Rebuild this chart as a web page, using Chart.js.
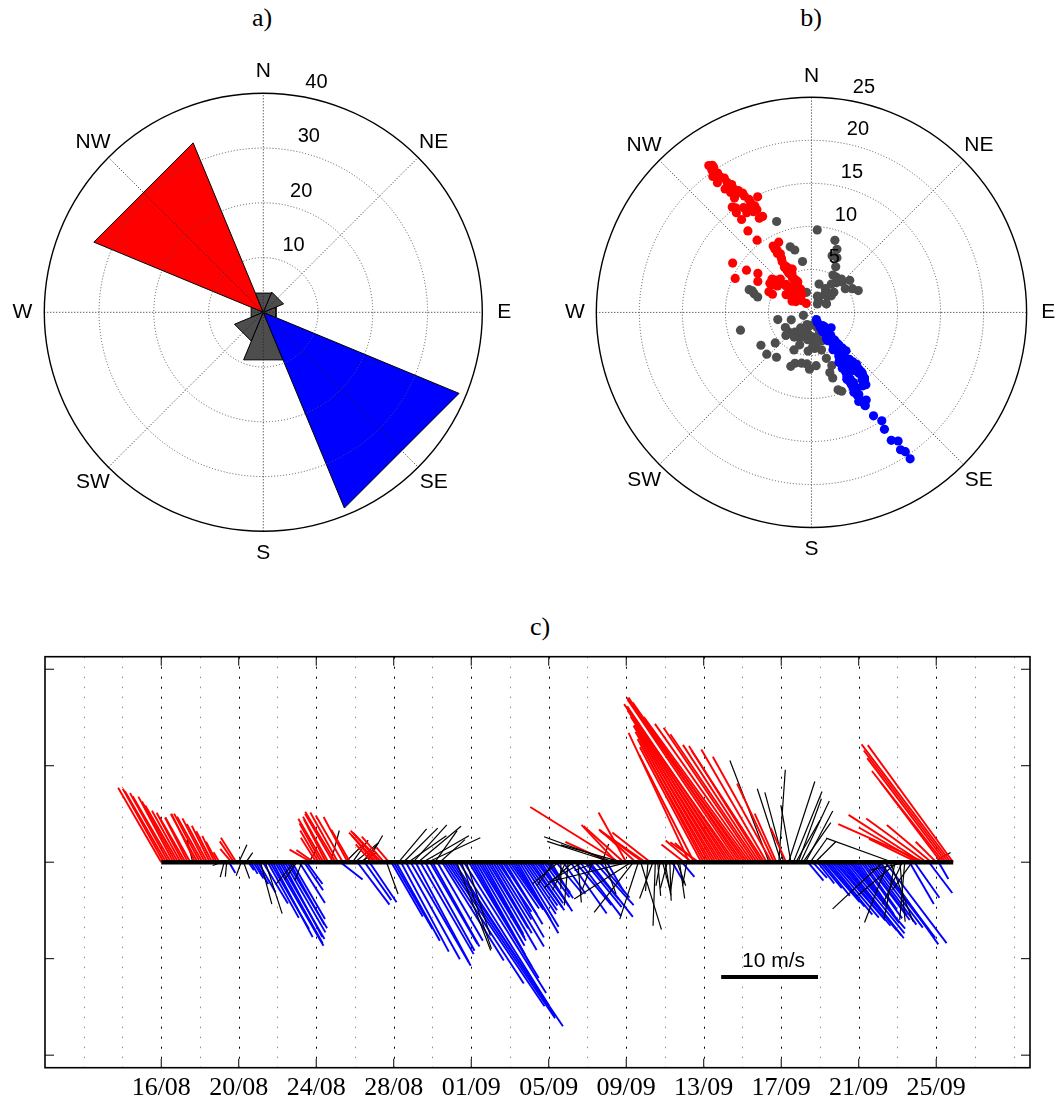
<!DOCTYPE html>
<html>
<head>
<meta charset="utf-8">
<title>Wind direction and speed</title>
<script src="https://cdn.jsdelivr.net/npm/chart.js@4.4.1/dist/chart.umd.min.js"></script>
<style>
  html, body { margin: 0; padding: 0; background: #fff; }
  body { position: relative; width: 1061px; height: 1105px; overflow: hidden; }
  canvas { position: absolute; }
  .panel-title { position: absolute; width: 80px; margin-left: -40px; text-align: center;
    font-family: "Liberation Serif", "Times New Roman", serif; font-size: 26px; line-height: 30px; color: #000; }
</style>
</head>
<body>
<div class="panel-title" style="left:262px; top:3px;">a)</div>
<div class="panel-title" style="left:811px; top:3px;">b)</div>
<div class="panel-title" style="left:540px; top:612px;">c)</div>
<canvas id="rose" width="526" height="560" style="left:0; top:40px;"></canvas>
<canvas id="scatter" width="526" height="560" style="left:535px; top:40px;"></canvas>
<canvas id="sticks" width="1061" height="505" style="left:0; top:600px;"></canvas>
<script>
// ---- compass sectors (45 deg wide, centred on each direction) ----
const compassNames  = ['N', 'NE', 'E', 'SE', 'S', 'SW', 'W', 'NW'];
const compassAngles = [0, 45, 90, 135, 180, 225, 270, 315];

// a) share of records falling in each sector (%)
const roseShare = [3.8, 4.0, 2.5, 38.7, 9.4, 5.7, 2.4, 33.5];
const roseRings = [10, 20, 30, 40];

// b) speed rings (m/s)
const speedRings = [5, 10, 15, 20, 25];

// c) time axis ticks (days after 16/08) and their labels, speed ticks (m/s)
const tickDays   = [0, 4, 8, 12, 16, 20, 24, 28, 32, 36, 40];
const tickLabels = ['16/08', '20/08', '24/08', '28/08', '01/09', '05/09', '09/09', '13/09', '17/09', '21/09', '25/09'];
const speedTicks = [-20, -10, 0, 10, 20];

// 3-hourly record starting 16/08 00:00: speed (m/s) and heading (deg clockwise from N)
const speed = [
  8.9, 8.7, 8.5, 8.2, 7.9, 7.7, 7.2, 6.8,      // 16/08
  6.1, 5.8, 5.4, 5.2, 5.3, 2.4, 5.6, 5.7,      // 17/08
  5.7, 5.4, 5.1, 4.5, 4.2, 3.6, 3.0, 2.4,      // 18/08
  1.2, 1.0, 1.6, 1.5, 1.3, 1.8, 2.6, 3.0,      // 19/08
  2.0, 1.5, 1.8, 1.2, 1.0, 1.4, 2.0, 2.6,      // 20/08
  3.6, 4.5, 5.0, 5.6, 6.6, 8.0, 8.8, 10.0,     // 21/08
  9.6, 9.2, 8.8, 8.4, 8.0, 7.4, 6.8, 3.0,      // 22/08
  2.2, 5.0, 2.0, 3.5, 2.8, 1.6, 2.6, 2.2,      // 23/08
  3.0, 3.8, 4.6, 5.2, 5.0, 5.4, 3.4, 5.8,      // 24/08
  6.1, 5.9, 2.9, 5.6, 2.6, 5.3, 3.9, 2.8,      // 25/08
  3.0, 5.5, 2.0, 2.6, 4.8, 3.2, 5.0, 2.5,      // 26/08
  3.6, 4.2, 4.4, 4.3, 3.5, 3.5, 2.0, 6.5,      // 27/08
  8.0, 9.3, 4.5, 10.5, 5.0, 11.5, 4.8, 12.4,   // 28/08
  5.2, 11.7, 5.8, 11.0, 5.5, 10.5, 6.0, 9.8,   // 29/08
  10.0, 4.0, 9.4, 3.5, 12.0, 15.0, 18.0, 19.5, // 30/08
  20.5, 19.0, 9.8, 17.5, 9.5, 16.0, 8.0, 14.0, // 31/08
  12.5, 11.0, 10.0, 9.5, 9.0, 8.5, 10.5, 8.0,  // 01/09
  8.5, 10.2, 7.0, 6.2, 9.0, 6.5, 7.5, 5.8,     // 02/09
  6.0, 6.5, 7.0, 8.5, 7.8, 6.4, 6.0, 5.5,      // 03/09
  5.8, 6.0, 5.2, 4.8, 5.5, 6.0, 4.5, 4.0,      // 04/09
  4.5, 3.8, 3.0, 4.2, 3.5, 2.8, 4.0, 3.2,      // 05/09
  4.5, 6.5, 4.0, 5.8, 4.2, 7.0, 3.5, 6.0,      // 06/09
  5.0, 7.2, 3.0, 6.0, 2.5, 4.8, 2.0, 3.5,      // 07/09
  3.5, 5.0, 7.0, 7.7, 5.3, 10.8, 6.5, 5.6,     // 08/09
  5.9, 8.5, 7.0, 6.6, 5.0, 6.2, 7.3, 5.5,      // 09/09
  5.9, 3.0, 5.0, 4.0, 6.6, 3.5, 2.5, 3.0,      // 10/09
  3.5, 2.8, 4.0, 2.5, 3.2, 2.6, 3.8, 2.0,      // 11/09
  3.0, 2.5, 14.8, 3.5, 12.5, 3.0, 3.6, 13.5,   // 12/09
  14.0, 14.6, 15.0, 15.6, 16.0, 16.5, 16.2, 16.8, // 13/09
  17.5, 18.0, 18.6, 19.0, 19.5, 20.0, 20.3, 20.6, // 14/09
  20.8, 20.2, 19.5, 18.6, 17.5, 16.8, 16.0, 14.5, // 15/09
  14.2, 13.8, 13.5, 11.3, 12.5, 9.0, 5.5, 9.6, // 16/09
  8.0, 7.5, 3.9, 8.8, 6.0, 7.9, 5.0, 7.0,      // 17/09
  7.0, 5.0, 6.0, 2.5, 3.0, 2.2, 3.0, 2.8,      // 18/09
  3.5, 4.5, 5.5, 6.0, 7.0, 7.5, 8.0, 8.6,      // 19/09
  9.2, 9.8, 10.0, 9.5, 9.0, 8.0, 7.5, 7.0,     // 20/09
  6.5, 7.2, 6.0, 7.5, 6.8, 8.0, 8.5, 9.0,      // 21/09
  9.8, 10.4, 7.1, 10.5, 6.7, 6.6, 7.3, 6.0,    // 22/09
  5.5, 6.2, 4.8, 6.0, 4.0, 5.0, 3.5, 4.5,      // 23/09
  5.5, 7.2, 9.0, 9.7, 7.7, 4.0, 6.0, 2.0,      // 24/09
  3.0, 2.0, 10.5, 12.0, 13.5, 14.5, 15.3, 15.0 // 25/09
];
const direction = [
  330, 331, 330, 331, 330, 332, 331, 330,
  331, 332, 330, 333, 331, 346, 334, 331,
  332, 331, 333, 332, 334, 333, 335, 332,
  330, 250, 195, 185, 150, 320, 326, 328,
  25, 200, 160, 35, 145, 150, 148, 150,
  150, 165, 149, 162, 151, 150, 152, 150,
  151, 150, 152, 150, 149, 151, 150, 220,
  215, 148, 200, 146, 144, 30, 300, 305,
  328, 330, 331, 330, 333, 331, 15, 330,
  329, 331, 128, 330, 45, 332, 330, 35,
  50, 143, 60, 40, 145, 30, 146, 318,
  320, 317, 318, 316, 319, 160, 320, 150,
  150, 151, 40, 152, 45, 151, 55, 150,
  42, 152, 50, 150, 60, 151, 65, 150,
  151, 35, 150, 48, 148, 147, 146, 146,
  146, 147, 159, 148, 161, 148, 162, 149,
  150, 151, 150, 149, 150, 151, 150, 149,
  150, 149, 148, 146, 150, 147, 149, 146,
  145, 146, 148, 150, 149, 147, 146, 145,
  144, 146, 145, 143, 146, 148, 144, 142,
  146, 150, 215, 140, 230, 180, 145, 205,
  185, 145, 228, 140, 175, 143, 240, 141,
  140, 142, 200, 138, 250, 140, 20, 160,
  150, 295, 288, 290, 317, 302, 286, 312,
  331, 256, 237, 218, 312, 198, 163, 306,
  305, 185, 308, 200, 182, 175, 190, 165,
  170, 195, 178, 150, 188, 160, 172, 140,
  308, 190, 335, 310, 333, 312, 305, 332,
  332, 331, 331, 330, 330, 329, 329, 328,
  328, 327, 327, 326, 326, 325, 326, 326,
  325, 325, 324, 324, 325, 326, 326, 327,
  328, 327, 330, 339, 331, 335, 336, 4,
  342, 345, 336, 18, 350, 22, 30, 20,
  25, 35, 28, 140, 35, 138, 45, 142,
  140, 141, 139, 140, 141, 140, 139, 140,
  140, 141, 142, 141, 140, 142, 143, 145,
  146, 144, 145, 143, 144, 144, 143, 142,
  143, 145, 227, 143, 201, 159, 290, 191,
  230, 175, 205, 185, 258, 150, 215, 145,
  296, 300, 303, 294, 306, 143, 310, 60,
  315, 150, 323, 322, 323, 323, 323, 324
];

const STEP_DAYS = 0.125;   // 3-hourly sampling
const DAYS_PER_MS = 0.5;   // stick scale: 10 m/s spans 5 days on the time axis
const RED = '#ff0000', BLUE = '#0000ff', GREY = '#4d4d4d';

Chart.defaults.font.family = '"Liberation Sans", Arial, sans-serif';

const rad = d => d * Math.PI / 180;
const polar = (r, d) => ({ x: r * Math.sin(rad(d)), y: r * Math.cos(rad(d)) });
const sectorOf = d => Math.floor((((d + 22.5) % 360) + 360) % 360 / 45);
const sectorColour = (s, other) => s === 7 ? RED : s === 3 ? BLUE : other;

// derived series
const sampleDay = speed.map((_, i) => i * STEP_DAYS);
const sector = direction.map(sectorOf);
const east  = speed.map((s, i) => s * Math.sin(rad(direction[i])));
const north = speed.map((s, i) => s * Math.cos(rad(direction[i])));

// ---- polar frame: dotted rings and spokes, outer circle, labels ----
function polarGeometry(chart) {
  const { x, y } = chart.scales;
  const cx = x.getPixelForValue(0), cy = y.getPixelForValue(0);
  return { cx, cy, k: x.getPixelForValue(1) - cx };
}
function drawPolarGrid(chart, o) {
  const { ctx } = chart;
  const { cx, cy, k } = polarGeometry(chart);
  const outer = o.rings[o.rings.length - 1];
  ctx.save();
  ctx.lineWidth = 1;
  ctx.setLineDash([1, 2]);
  ctx.strokeStyle = '#555';
  o.rings.slice(0, -1).forEach(r => {
    ctx.beginPath(); ctx.arc(cx, cy, r * k, 0, Math.PI * 2); ctx.stroke();
  });
  ctx.strokeStyle = '#222';
  [0, 45, 90, 135].forEach(a => {
    const dx = Math.sin(rad(a)) * outer * k, dy = Math.cos(rad(a)) * outer * k;
    ctx.beginPath(); ctx.moveTo(cx - dx, cy + dy); ctx.lineTo(cx + dx, cy - dy); ctx.stroke();
  });
  ctx.setLineDash([]);
  ctx.strokeStyle = '#000';
  ctx.lineWidth = 1.4;
  ctx.beginPath(); ctx.arc(cx, cy, outer * k, 0, Math.PI * 2); ctx.stroke();
  ctx.restore();
}
function drawPolarLabels(chart, o) {
  const { ctx } = chart;
  const { cx, cy, k } = polarGeometry(chart);
  const outer = o.rings[o.rings.length - 1];
  ctx.save();
  ctx.fillStyle = '#000';
  ctx.font = '21px "Liberation Sans", Arial, sans-serif';
  ctx.textAlign = 'center';
  ctx.textBaseline = 'middle';
  compassNames.forEach((name, i) => {
    const p = 1.1 * outer * k;
    ctx.fillText(name, cx + p * Math.sin(rad(compassAngles[i])), cy - p * Math.cos(rad(compassAngles[i])));
  });
  ctx.font = '20px "Liberation Sans", Arial, sans-serif';
  ctx.textAlign = 'left';
  ctx.textBaseline = 'bottom';
  const step = o.rings[1] - o.rings[0];
  o.rings.forEach(r => {
    const p = (r + step / 20) * k;
    ctx.fillText('  ' + r, cx + p * Math.sin(rad(8)), cy - p * Math.cos(rad(8)));
  });
  ctx.restore();
}
const polarFrame = {
  id: 'polarFrame',
  beforeDatasetsDraw(chart, args, o) { if (!o.gridOnTop) drawPolarGrid(chart, o); },
  afterDatasetsDraw(chart, args, o) {
    if (o.gridOnTop) drawPolarGrid(chart, o);
    drawPolarLabels(chart, o);
  }
};

const baseOptions = {
  responsive: false,
  animation: false,
  events: [],
  devicePixelRatio: 1,
  layout: { padding: 0 }
};

// ---- a) direction rose ----
const petals = compassAngles.map((a, i) => ({
  data: [polar(0, a), polar(roseShare[i], a - 22.5), polar(roseShare[i], a + 22.5), polar(0, a)],
  borderColor: '#000',
  borderWidth: 1,
  backgroundColor: sectorColour(i, GREY),
  fill: 'shape',
  pointRadius: 0,
  tension: 0
}));
new Chart(document.getElementById('rose'), {
  type: 'line',
  data: { datasets: petals },
  options: {
    ...baseOptions,
    plugins: {
      legend: { display: false }, tooltip: { enabled: false },
      polarFrame: { rings: roseRings, gridOnTop: true }
    },
    scales: {
      x: { type: 'linear', min: -48.09, max: 47.98, display: false },
      y: { type: 'linear', min: -52.55, max: 49.74, display: false }
    }
  },
  plugins: [polarFrame]
});

// ---- b) speed / direction scatter ----
const scatterGroups = [
  { keep: s => s !== 7 && s !== 3, colour: GREY, order: 2 },
  { keep: s => s === 7, colour: RED, order: 1 },
  { keep: s => s === 3, colour: BLUE, order: 0 }
];
new Chart(document.getElementById('scatter'), {
  type: 'scatter',
  data: {
    datasets: scatterGroups.map(g => ({
      data: speed.map((_, i) => ({ x: east[i], y: north[i], s: sector[i] })).filter(p => g.keep(p.s)),
      pointRadius: 4.6,
      pointBorderWidth: 0,
      pointBackgroundColor: g.colour,
      order: g.order
    }))
  },
  options: {
    ...baseOptions,
    plugins: {
      legend: { display: false }, tooltip: { enabled: false },
      polarFrame: { rings: speedRings, gridOnTop: false }
    },
    scales: {
      x: { type: 'linear', min: -31.59, max: 28.46, display: false },
      y: { type: 'linear', min: -32.84, max: 31.08, display: false }
    }
  },
  plugins: [polarFrame]
});

// ---- c) stick plot ----
const stickPoints = [];
const stickColour = sector.map(s => sectorColour(s, '#000'));
const stickWidth = sector.map(s => (s === 7 || s === 3) ? 1.9 : 1.2);
sampleDay.forEach((t, i) => {
  stickPoints.push({ x: t, y: 0 }, { x: t + east[i] * DAYS_PER_MS, y: north[i] }, { x: t, y: null });
});
const lastDay = sampleDay[sampleDay.length - 1];
const SCALE_BAR = { day: 28.9, value: -11.9, speed: 10 };

const stickFrame = {
  id: 'stickFrame',
  beforeDatasetsDraw(chart) {
    const { ctx, chartArea: a, scales: { x } } = chart;
    ctx.save();
    ctx.lineWidth = 1;
    for (let d = -4; d <= 44; d += 2) {
      const major = tickDays.includes(d);
      ctx.strokeStyle = major ? '#000' : '#8a8a8a';
      ctx.setLineDash(major ? [2, 8] : [1.5, 8.5]);
      const px = Math.round(x.getPixelForValue(d)) + 0.5;
      ctx.beginPath(); ctx.moveTo(px, a.top); ctx.lineTo(px, a.bottom); ctx.stroke();
    }
    ctx.restore();
  },
  afterDatasetsDraw(chart) {
    const { ctx, chartArea: a, scales: { x, y } } = chart;
    const T = 9;
    ctx.save();
    ctx.strokeStyle = '#000';
    ctx.lineWidth = 1;
    ctx.beginPath();
    tickDays.forEach(d => {
      const px = x.getPixelForValue(d);
      ctx.moveTo(px, a.bottom); ctx.lineTo(px, a.bottom - T);
      ctx.moveTo(px, a.top); ctx.lineTo(px, a.top + T);
    });
    speedTicks.forEach(v => {
      const py = y.getPixelForValue(v);
      ctx.moveTo(a.left, py); ctx.lineTo(a.left + T, py);
      ctx.moveTo(a.right, py); ctx.lineTo(a.right - T, py);
    });
    ctx.stroke();
    ctx.lineWidth = 1.6;
    ctx.strokeRect(a.left, a.top, a.right - a.left, a.bottom - a.top);
    ctx.fillStyle = '#000';
    ctx.font = '21px "Liberation Sans", Arial, sans-serif';
    ctx.textAlign = 'center';
    ctx.textBaseline = 'alphabetic';
    const mid = SCALE_BAR.day + SCALE_BAR.speed * DAYS_PER_MS / 2;
    ctx.fillText(SCALE_BAR.speed + ' m/s', x.getPixelForValue(mid) + 4, y.getPixelForValue(SCALE_BAR.value) - 10);
    ctx.restore();
  }
};

new Chart(document.getElementById('sticks'), {
  type: 'line',
  data: {
    datasets: [
      { data: [{ x: 0, y: 0 }, { x: lastDay, y: 0 }], borderColor: '#000', borderWidth: 4.5, order: 0 },
      { data: [{ x: SCALE_BAR.day, y: SCALE_BAR.value }, { x: SCALE_BAR.day + SCALE_BAR.speed * DAYS_PER_MS, y: SCALE_BAR.value }],
        borderColor: '#000', borderWidth: 4, order: 0 },
      { data: stickPoints, borderColor: '#000', borderWidth: 1, order: 1,
        segment: {
          borderColor: c => stickColour[Math.floor(c.p0DataIndex / 3)],
          borderWidth: c => stickWidth[Math.floor(c.p0DataIndex / 3)]
        } }
    ]
  },
  options: {
    ...baseOptions,
    layout: { padding: { left: 45, right: 31, top: 56.7, bottom: 7.3 } },
    spanGaps: false,
    elements: { point: { radius: 0 }, line: { tension: 0, borderCapStyle: 'butt' } },
    plugins: { legend: { display: false }, tooltip: { enabled: false } },
    scales: {
      x: {
        type: 'linear', min: -6, max: 44.84, position: 'bottom',
        grid: { display: false, drawTicks: false },
        border: { display: false },
        afterBuildTicks: s => { s.ticks = tickDays.map(v => ({ value: v })); },
        afterFit: s => { s.height = 30; },
        ticks: {
          autoSkip: false, maxRotation: 0, padding: 5, color: '#000',
          font: { family: '"Liberation Serif", "Times New Roman", serif', size: 26 },
          callback: (v, i) => tickLabels[i]
        }
      },
      y: { type: 'linear', min: -21.3, max: 21.3, display: false }
    }
  },
  plugins: [stickFrame]
});
</script>
</body>
</html>
